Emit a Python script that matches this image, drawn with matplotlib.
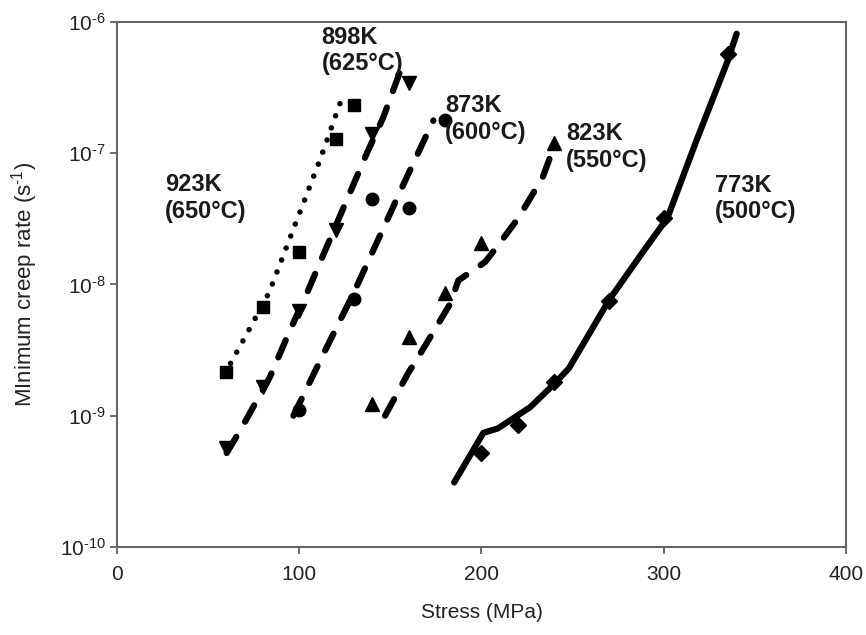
import matplotlib
matplotlib.use("Agg")
import matplotlib.pyplot as plt
from matplotlib.ticker import FuncFormatter
import numpy as np

plt.rcParams['font.family'] = ['Liberation Sans', 'DejaVu Sans']
plt.rcParams['mathtext.fontset'] = 'custom'
plt.rcParams['mathtext.rm'] = 'Liberation Sans'
plt.rcParams['mathtext.it'] = 'Liberation Sans:italic'
plt.rcParams['mathtext.bf'] = 'Liberation Sans:bold'

# measured points (stress MPa, minimum creep rate 1/s)
stress_923 = [60, 80, 100, 120, 130]
rate_923 = [2.14e-9, 6.7e-9, 1.75e-8, 1.29e-7, 2.34e-7]
stress_898 = [60, 80, 100, 120, 140, 160]
rate_898 = [5.7e-10, 1.66e-9, 6.3e-9, 2.6e-8, 1.4e-7, 3.4e-7]
stress_873 = [100, 130, 140, 160, 180]
rate_873 = [1.1e-9, 7.8e-9, 4.5e-8, 3.8e-8, 1.8e-7]
stress_823 = [140, 160, 180, 200, 240]
rate_823 = [1.22e-9, 4.0e-9, 8.6e-9, 2.06e-8, 1.2e-7]
stress_773 = [200, 220, 240, 270, 300, 335]
rate_773 = [5.2e-10, 8.5e-10, 1.8e-9, 7.5e-9, 3.2e-8, 5.7e-7]

# fitted curves
fit_x_923 = [62.3, 73.0, 83.5, 111.4, 123.3]
fit_y_923 = [2.5e-9, 4.66e-9, 8.7e-9, 8.9e-8, 2.6e-7]
fit_x_898 = [60.2, 69.3, 83.9, 95.0, 104.1, 137.0, 146.1, 156.2]
fit_y_898 = [5.2e-10, 8.5e-10, 1.97e-9, 4.5e-9, 8.5e-9, 9.9e-8, 1.87e-7, 4.5e-7]
fit_x_873 = [96.8, 115.0, 129.7, 158.9, 173.6]
fit_y_873 = [1.0e-9, 3.3e-9, 8.5e-9, 6.5e-8, 1.77e-7]
fit_x_823 = [147.1, 159.7, 169.0, 182.8, 187.3, 202.0, 209.3, 220.2, 233.5, 239.4]
fit_y_823 = [1.0e-9, 2.1e-9, 3.4e-9, 7.1e-9, 1.07e-8, 1.48e-8, 2.0e-8, 3.2e-8, 6.5e-8, 1.08e-7]
fit_x_773 = [185, 201, 209, 226.7, 240, 248, 270, 289, 302, 318, 335, 340]
fit_y_773 = [3.1e-10, 7.4e-10, 8.0e-10, 1.16e-9, 1.75e-9, 2.3e-9, 7.6e-9, 1.8e-8, 3.2e-8, 1.25e-7, 5.0e-7, 8.1e-7]

labels = ['923K\n(650°C)', '898K\n(625°C)', '873K\n(600°C)', '823K\n(550°C)', '773K\n(500°C)']
label_x = [26.3, 112.3, 180.0, 246.4, 328.2]
label_y = [7.0e-8, 9.3e-7, 2.8e-7, 1.71e-7, 6.95e-8]

fig = plt.figure(figsize=(8.66, 6.35), dpi=100)
ax = fig.add_axes([0.1351, 0.1386, 0.8418, 0.8272])

dash = (0, (3.0, 2.8))
lw = 4.5
ax.plot(fit_x_923, fit_y_923, color='black', lw=4.0, linestyle=(0, (0.01, 2.3)),
        dash_capstyle='round', solid_joinstyle='round')
ax.plot(fit_x_898, fit_y_898, color='black', lw=lw, linestyle=dash, dash_capstyle='round')
ax.plot(fit_x_873, fit_y_873, color='black', lw=lw, linestyle=dash, dash_capstyle='round')
ax.plot(fit_x_823, fit_y_823, color='black', lw=lw, linestyle=dash, dash_capstyle='round')
ax.plot(fit_x_773, fit_y_773, color='black', lw=lw, solid_capstyle='round', solid_joinstyle='round')

ax.plot(stress_923, rate_923, 's', color='black', ms=9, ls='none')
ax.plot(stress_898, rate_898, 'v', color='black', ms=10, ls='none')
ax.plot(stress_873, rate_873, 'o', color='black', ms=9, ls='none')
ax.plot(stress_823, rate_823, '^', color='black', ms=10, ls='none')
ax.plot(stress_773, rate_773, 'D', color='black', ms=8, ls='none')

for txt, lx, ly in zip(labels, label_x, label_y):
    ax.text(lx, ly, txt, fontsize=17, fontweight='bold', va='top', ha='left',
            color='#1a1a1a', linespacing=1.2)

ax.set_yscale('log')
ax.set_xlim(0, 400)
ax.set_ylim(1e-10, 1e-6)
ax.set_xticks([0, 100, 200, 300, 400])
ax.set_yticks([1e-10, 1e-9, 1e-8, 1e-7, 1e-6])
ax.minorticks_off()
ax.yaxis.set_major_formatter(FuncFormatter(
    lambda v, p: '$10^{\\text{-}%d}$' % int(round(-np.log10(v)))))
ax.tick_params(direction='out', length=5, width=1.2, color='#555555',
               labelsize=15, labelcolor='#222222')
ax.tick_params(axis='x', pad=8)
ax.tick_params(axis='y', pad=3)
for s in ax.spines.values():
    s.set_color('#666666')
    s.set_linewidth(1.5)

ax.set_xlabel('Stress (MPa)', fontsize=15, color='#222222', labelpad=14)
ax.set_ylabel('MInimum creep rate (s$^{\\text{-}1}$)', fontsize=16, color='#222222', labelpad=14)

fig.savefig('out.png', dpi=100)
